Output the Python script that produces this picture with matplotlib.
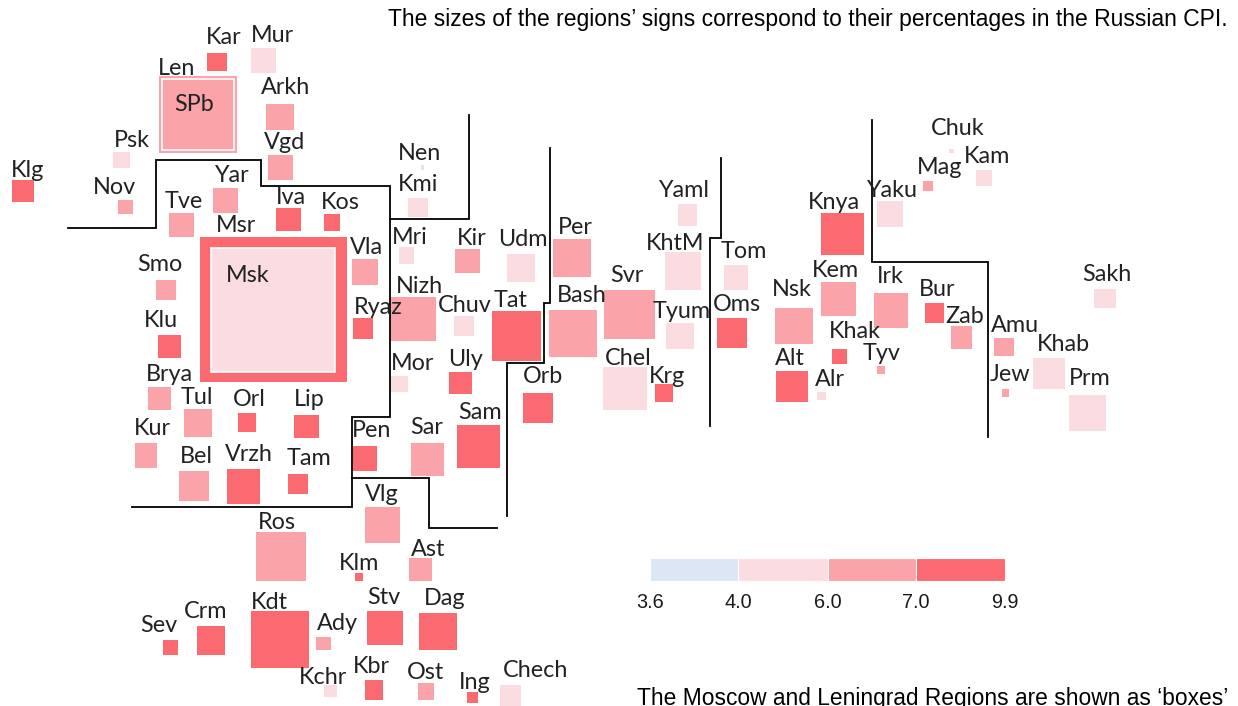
import matplotlib
matplotlib.use('Agg')
import matplotlib.pyplot as plt

# pixel-like cartogram grid, y runs downwards
regions = ['Kar','Mur','Arkh','Vgd','Psk','Klg','Nov','Tve','Yar','Iva','Kos','Vla','Ryaz','Smo','Klu','Brya','Tul','Orl','Lip','Kur','Bel','Vrzh','Tam',
           'Pen','Sar','Sam','Vlg','Ros','Klm','Ast','Stv','Dag','Kdt','Crm','Sev','Ady','Kchr','Kbr','Ost','Ing','Chech',
           'Nen','Kmi','Mri','Kir','Udm','Per','Nizh','Chuv','Tat','Bash','Svr','KhtM','Yaml','Tyum','Tom','Oms','Mor','Uly','Orb','Chel','Krg',
           'Chuk','Kam','Mag','Yaku','Knya','Kem','Nsk','Irk','Bur','Zab','Khak','Tyv','Alt','Alr','Amu','Jew','Khab','Prm','Sakh']
left = [207,251,266,268,113,12,118,169,213,276,324,352,353,156,158,148,184,238,294,135,179,227,288,
        353,411,457,365,256,355,409,367,419,251,197,163,316,324,365,418,467,500,
        421,408,399,455,507,553,391,454,492,549,604,665,678,666,724,717,391,449,523,603,655,
        949,976,923,877,821,821,775,874,925,951,832,877,776,817,994,1002,1033,1069,1094]
top = [53,48,104,155,152,180,200,213,188,208,214,259,318,280,335,387,409,413,415,443,471,469,474,
       446,443,425,507,532,573,558,611,613,611,626,640,637,685,680,683,692,685,
       165,198,247,249,254,239,297,316,311,310,290,252,204,323,265,318,376,372,393,367,384,
       149,170,181,201,213,282,308,293,303,326,349,366,371,392,338,389,358,395,289]
width = [20,25,28,25,17,22,15,25,25,25,16,26,20,20,23,23,28,18,25,22,30,33,20,
         24,33,43,35,50,8,23,36,38,58,28,15,15,13,18,16,11,21,
         3,20,15,25,28,38,45,20,49,48,51,36,19,28,24,30,17,23,30,44,18,
         5,16,10,26,43,35,38,34,19,21,15,8,32,9,20,7,32,37,22]
height = [18,25,26,25,16,22,14,24,25,23,17,26,21,20,23,23,28,19,23,25,30,35,20,
          25,33,43,36,49,8,23,34,37,57,29,15,13,12,20,17,11,21,
          5,19,17,24,28,38,44,20,50,47,49,38,22,26,25,30,16,22,30,43,18,
          4,16,10,26,42,34,36,35,20,23,15,8,31,8,18,8,31,36,19]
cpi_class = [4,2,3,3,2,4,3,3,3,4,4,3,4,3,4,3,3,4,4,3,3,4,4,
             4,3,4,3,3,4,3,4,4,4,4,4,3,2,4,3,4,2,
             1,2,2,3,2,3,3,2,4,3,3,2,2,2,2,4,2,4,4,2,4,
             2,2,3,2,4,3,3,3,4,3,4,3,4,2,3,3,2,2,2]
label_x = [224,272,286,285,132,28,114,184,231,291,340,366,378,160,161,169,197,249,309,152,196,249,309,
           372,427,480,382,277,359,428,384,445,269,206,159,337,323,371,425,475,536,
           420,418,410,472,523,575,419,465,511,582,627,675,684,682,744,737,413,466,543,628,667,
           958,987,940,892,834,835,792,890,937,965,855,882,790,830,1015,1010,1063,1090,1107]
label_y = [36,34,86,141,139,169,186,200,174,196,201,246,306,263,319,373,396,398,398,427,455,453,457,
           429,426,411,493,521,562,548,596,597,601,610,624,622,676,665,671,681,669,
           152,183,236,237,238,226,285,304,299,294,274,242,189,310,250,303,362,358,375,357,375,
           127,155,166,189,201,269,288,275,288,315,330,352,357,378,324,373,343,377,273]

# the two cities drawn as boxes: outer region, inner city
box_names = ['Msk','SPb']
box_outer = [(200,237,147,145),(159,76,78,77)]
box_inner = [(211,248,124,124),(162,79,72,71)]
box_outer_class = [4,3]
box_inner_class = [2,3]
box_label_x = [248,194]
box_label_y = [274,103]
extra_labels = ['Msr','Len']
extra_x = [236,177]
extra_y = [224,67]

# macro-district border lines
border_1_x = [68,156,156,261,261,390,390,352,352,132]
border_1_y = [228,228,160,160,186,186,417,417,507,507]
border_2_x = [352,429,429,497]
border_2_y = [478,478,528,528]
border_3_x = [469,469,390]
border_3_y = [115,219,219]
border_4_x = [550,550,544,544,507,507]
border_4_y = [148,303,303,363,363,516]
border_5_x = [721,721,710,710]
border_5_y = [158,238,238,426]
border_6_x = [872,872,988,988]
border_6_y = [120,262,262,437]

legend_edges = [650,738,828,916,1005]
legend_ticks = ['3.6','4.0','6.0','7.0','9.9']
legend_classes = [1,2,3,4]

colors = {1:'#DDE6F5', 2:'#FBDCE1', 3:'#FAA3A8', 4:'#FB6A70'}

plt.rcParams['font.family'] = ['Lato', 'DejaVu Sans']

fig = plt.figure(figsize=(12.38, 7.06), dpi=100)
ax = fig.add_axes([0, 0, 1, 1])
ax.set_xlim(0, 1238)
ax.set_ylim(706, 0)
ax.axis('off')

ax.bar(left, height, width=width, bottom=top, align='edge',
       color=[colors[c] for c in cpi_class], edgecolor='none', zorder=2)

for i in range(len(box_names)):
    x, y, w, h = box_outer[i]
    ax.bar(x, h, width=w, bottom=y, align='edge', color=colors[box_outer_class[i]], zorder=2)
    x, y, w, h = box_inner[i]
    ax.bar(x, h, width=w, bottom=y, align='edge', color=colors[box_inner_class[i]],
           edgecolor='white', linewidth=1.2, zorder=3)

for xs, ys in [(border_1_x, border_1_y), (border_2_x, border_2_y), (border_3_x, border_3_y),
               (border_4_x, border_4_y), (border_5_x, border_5_y), (border_6_x, border_6_y)]:
    ax.plot(xs, ys, color='black', lw=1.3, solid_joinstyle='miter', zorder=4)

for name, x, y in zip(regions + box_names + extra_labels,
                      label_x + box_label_x + extra_x,
                      label_y + box_label_y + extra_y):
    ax.text(x, y + 1.5, name, fontsize=16.8, color='#222222', ha='center', va='center', zorder=5)

for i in range(4):
    ax.bar(legend_edges[i], 23, width=legend_edges[i+1]-legend_edges[i], bottom=558, align='edge',
           color=colors[legend_classes[i]], edgecolor='white', linewidth=0.8, zorder=2)
for x, t in zip(legend_edges, legend_ticks):
    ax.text(x, 602, t, fontsize=14.3, family='Liberation Sans', ha='center', va='center', color='#1a1a1a')

# the lower note sits on the picture's bottom edge in the reference
ax.text(1228, 26, 'The sizes of the regions\u2019 signs correspond to their percentages in the Russian CPI.',
        fontsize=16.45, family='Liberation Sans', ha='right', va='baseline', color='black')
ax.text(1228, 705, 'The Moscow and Leningrad Regions are shown as \u2018boxes\u2019',
        fontsize=16.4, family='Liberation Sans', ha='right', va='baseline', color='black')

fig.savefig('out.png', dpi=100)
